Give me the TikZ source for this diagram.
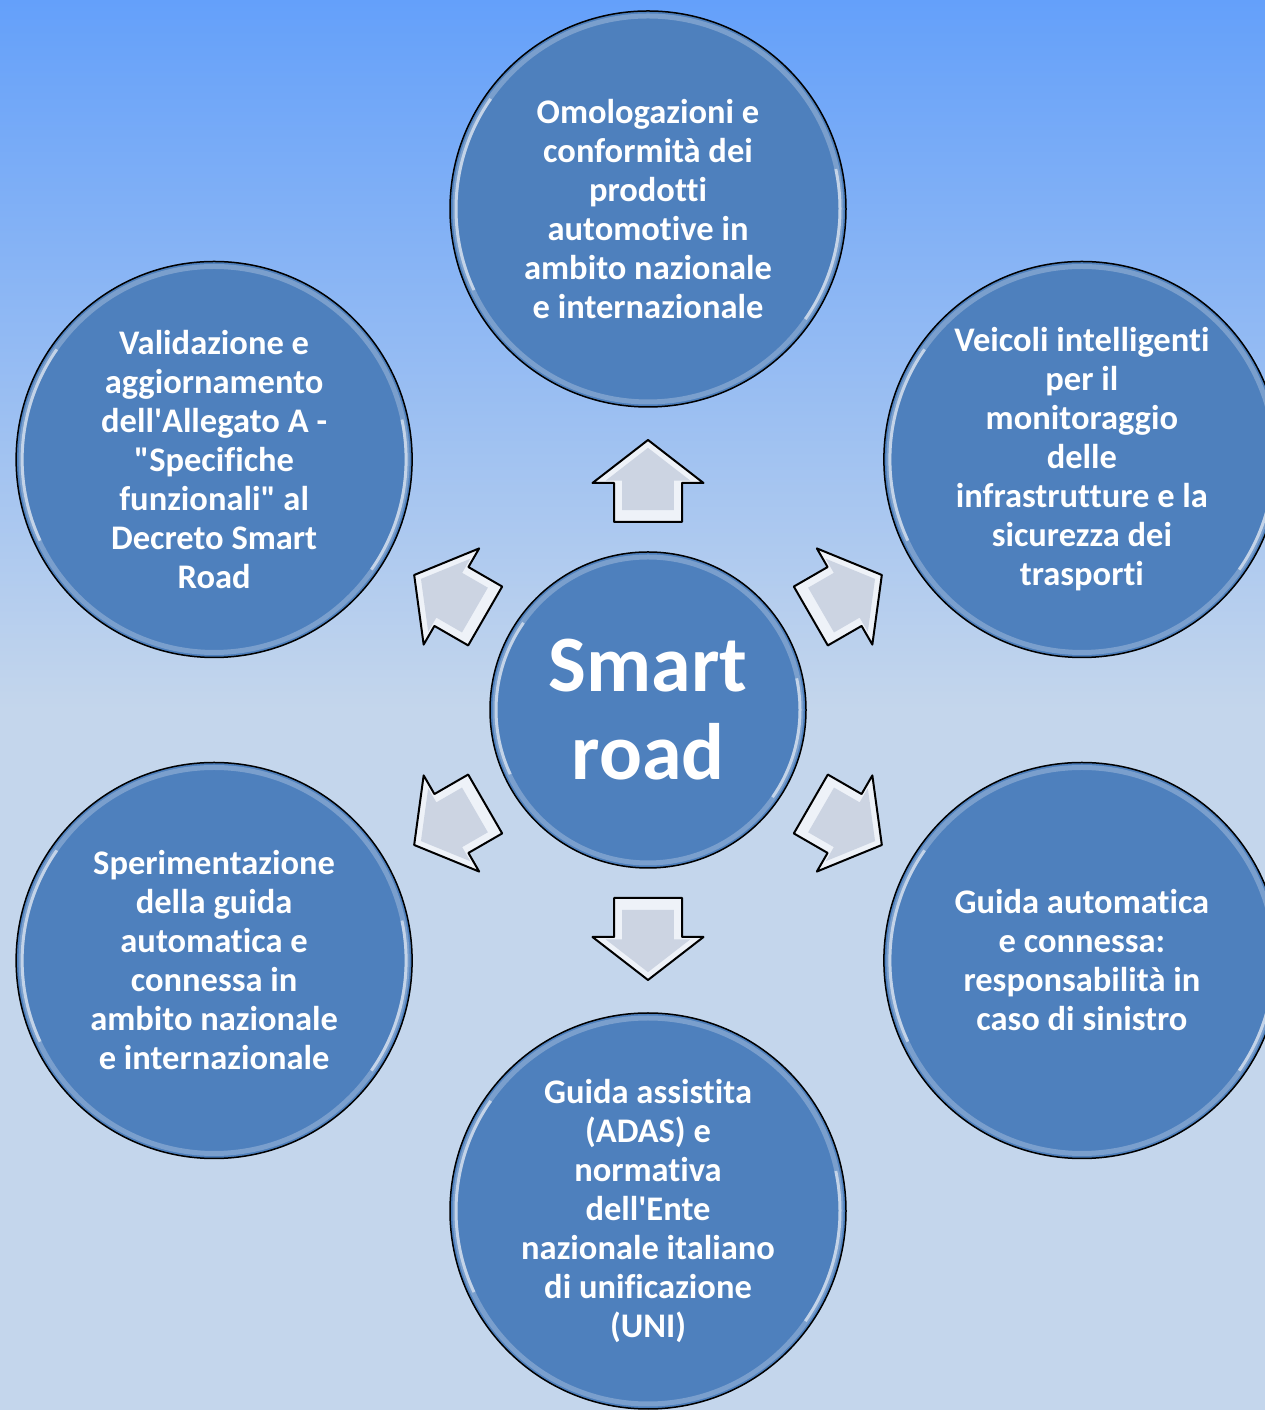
\documentclass[tikz,border=0pt]{standalone}
\usepackage{fontspec}
\setmainfont{Carlito}[Ligatures=NoCommon]
\usetikzlibrary{calc}
\definecolor{skytop}{RGB}{100,160,250}
\definecolor{skybot}{RGB}{196,214,236}
\definecolor{ballblue}{RGB}{78,128,189}
\definecolor{arrowlite}{RGB}{238,242,248}
\definecolor{arrowgrey}{RGB}{204,212,226}
\tikzset{
  ball/.style={circle, draw=black, line width=1.5pt, fill=ballblue,
    text=white, align=center, inner sep=0pt, minimum size=396pt,
    font=\fontsize{34.5}{39}\selectfont\bfseries},
  hubball/.style={ball, minimum size=316pt,
    font=\fontsize{80}{88}\selectfont\bfseries},
  gloss/.style={white, line width=3pt, opacity=.55}
}
\begin{document}
\begin{tikzpicture}[x=1pt,y=1pt]
  \clip (0,0) rectangle (1265,1410);
  % sky
  \fill[skybot] (0,0) rectangle (1265,700);
  \shade[top color=skytop, bottom color=skybot] (0,700) rectangle (1265,1410);
  % centre and the six topics
  \node[hubball] (hub) at (648,700) {Smart\\road};
  \node[ball] (omolog) at ($(hub)+(90:501)$)
    {Omologazioni e\\conformità dei\\prodotti\\automotive in\\ambito nazionale\\e internazionale};
  \node[ball] (veicoli) at ($(hub)+(30:501)$)
    {Veicoli intelligenti\\per il\\monitoraggio\\delle\\infrastrutture e la\\sicurezza dei\\trasporti};
  \node[ball] (allegato) at ($(hub)+(150:501)$)
    {Validazione e\\aggiornamento\\dell\textquotesingle Allegato A -\\\textquotedbl Specifiche\\funzionali\textquotedbl{} al\\Decreto Smart\\Road};
  \node[ball] (sperim) at ($(hub)+(210:501)$)
    {Sperimentazione\\della guida\\automatica e\\connessa in\\ambito nazionale\\e internazionale};
  \node[ball] (respons) at ($(hub)+(330:501)$)
    {Guida automatica\\e connessa:\\responsabilità in\\caso di sinistro};
  \node[ball] (adas) at ($(hub)+(270:501)$)
    {Guida assistita\\(ADAS) e\\normativa\\dell\textquotesingle Ente\\nazionale italiano\\di unificazione\\(UNI)};
  % rim highlights
  \foreach \n/\r in {hub/158,omolog/198,veicoli/198,allegato/198,sperim/198,respons/198,adas/198}
   {
    \draw[white, opacity=.25, line width=5pt] (\n.center) circle[radius=\r-5];
    \draw[gloss] (\n.center) ++(145:\r-6) arc[start angle=145, end angle=205, radius=\r-6];
    \draw[gloss] (\n.center) ++(-35:\r-6) arc[start angle=-35, end angle=12, radius=\r-6];
   }
  % arrows
  \foreach \a in {30,90,...,330}
   {
    \begin{scope}[shift={(hub.center)}, rotate=\a, shift={(229,0)}]
      \filldraw[fill=arrowlite, draw=black, line width=2pt, line join=round]
        (-41,-34) -- (-2,-34) -- (-2,-55.5) -- (41,0) -- (-2,55.5) -- (-2,34) -- (-41,34) -- cycle;
      \fill[arrowgrey, shift={(2,0)}, scale=.76]
        (-41,-34) -- (-2,-34) -- (-2,-55.5) -- (41,0) -- (-2,55.5) -- (-2,34) -- (-41,34) -- cycle;
    \end{scope}
   }
\end{tikzpicture}
\end{document}
